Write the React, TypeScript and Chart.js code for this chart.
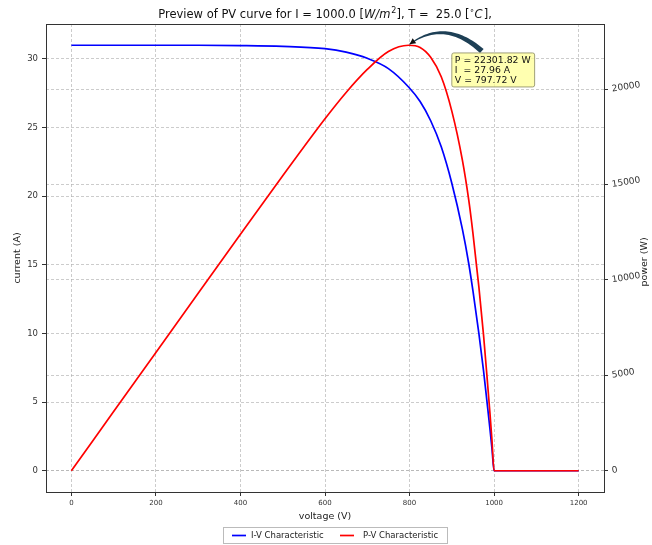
import React, { useEffect, useRef } from "react";
import { Chart, registerables } from "chart.js";

Chart.register(...registerables);

// ---- data ----
const voltage = [0, 100, 200, 300, 400, 500, 600, 650, 700, 750, 797.72, 825, 850, 875, 900, 925, 940, 950, 964, 975, 984, 990, 995, 1000, 1100, 1200];
const current = [31.0, 31.0, 31.0, 31.0, 30.98, 30.92, 30.75, 30.5, 30.05, 29.3, 27.96, 26.9, 25.5, 23.6, 20.95, 17.6, 15.1, 13.1, 10.0, 7.3, 4.8, 3.1, 1.6, 0, 0, 0];
const power = [0, 3100, 6200, 9300, 12390, 15460, 18450, 19830, 21035, 21975, 22301.82, 22190, 21675, 20650, 18850, 16280, 14194, 12445, 9640, 7120, 4720, 3070, 1590, 0, 0, 0];

const xTicks = [0, 200, 400, 600, 800, 1000, 1200];
const currentTicks = [0, 5, 10, 15, 20, 25, 30];
const powerTicks = [0, 5000, 10000, 15000, 20000];

const seriesLabels = ["I-V Characteristic", "P-V Characteristic"];
const peak = { v: 797.72, i: 27.96, p: 22301.82 };
const annotationLines = ["P = 22301.82 W", "I  = 27.96 A", "V = 797.72 V"];

const FONT = "'DejaVu Sans', 'Liberation Sans', sans-serif";
const GRID = "rgba(175,175,175,0.8)";

const decorPlugin = {
  id: "decor",
  afterDraw(chart: any) {
    const ctx = chart.ctx as CanvasRenderingContext2D;
    const a = chart.chartArea;
    const xs = chart.scales.x;
    const y2 = chart.scales.y2;
    ctx.save();

    // frame
    ctx.strokeStyle = "#333";
    ctx.lineWidth = 1;
    ctx.strokeRect(Math.round(a.left) + 0.5, Math.round(a.top) + 0.5, Math.round(a.right - a.left), Math.round(a.bottom - a.top));

    // title with mathtext-like parts
    const cx = (a.left + a.right) / 2;
    const base = 18;
    const normal = `11.5px ${FONT}`;
    const ital = `italic 11.5px ${FONT}`;
    const sup = `8px ${FONT}`;
    const parts: [string, string, number][] = [
      ["Preview of PV curve for I = 1000.0 [", normal, 0],
      ["W/m", ital, 0],
      ["2", sup, -5],
      ["], T =  25.0 [", normal, 0],
      ["\u2218", sup, -5],
      ["C", ital, 0],
      ["],", normal, 0],
    ];
    let total = 0;
    for (const [t, f] of parts) {
      ctx.font = f;
      total += ctx.measureText(t).width + (f === ital ? 1 : 0);
    }
    let tx = cx - total / 2;
    ctx.fillStyle = "#111";
    ctx.textBaseline = "alphabetic";
    ctx.textAlign = "left";
    for (const [t, f, dy] of parts) {
      ctx.font = f;
      ctx.fillText(t, tx, base + dy);
      tx += ctx.measureText(t).width + (f === ital ? 1 : 0);
    }

    // axis titles
    ctx.fillStyle = "#222";
    ctx.font = `9.5px ${FONT}`;
    ctx.textAlign = "center";
    ctx.textBaseline = "middle";
    ctx.fillText("voltage (V)", cx, 517);
    ctx.save();
    ctx.translate(18, (a.top + a.bottom) / 2);
    ctx.rotate(-Math.PI / 2);
    ctx.fillText("current (A)", 0, 0);
    ctx.restore();
    ctx.save();
    ctx.translate(645, (a.top + a.bottom) / 2 + 4);
    ctx.rotate(-Math.PI / 2);
    ctx.fillText("power (W)", 0, 0);
    ctx.restore();

    // annotation arrow (curved, tapered)
    const x0 = xs.getPixelForValue(971), y0 = y2.getPixelForValue(22000);
    const x1 = xs.getPixelForValue(peak.v) + 1, y1 = y2.getPixelForValue(peak.p) - 1;
    const qx = xs.getPixelForValue(884), qy = y2.getPixelForValue(23720);
    const N = 40;
    const left: [number, number][] = [];
    const right: [number, number][] = [];
    for (let k = 0; k <= N; k++) {
      const t = k / N;
      const px = (1 - t) * (1 - t) * x0 + 2 * (1 - t) * t * qx + t * t * x1;
      const py = (1 - t) * (1 - t) * y0 + 2 * (1 - t) * t * qy + t * t * y1;
      const dx = 2 * (1 - t) * (qx - x0) + 2 * t * (x1 - qx);
      const dy = 2 * (1 - t) * (qy - y0) + 2 * t * (y1 - qy);
      const len = Math.hypot(dx, dy) || 1;
      const nx = -dy / len, ny = dx / len;
      const w = 2.2 * (1 - t) + 0.5;
      left.push([px + nx * w, py + ny * w]);
      right.push([px - nx * w, py - ny * w]);
    }
    ctx.beginPath();
    ctx.moveTo(left[0][0], left[0][1]);
    for (const p of left) ctx.lineTo(p[0], p[1]);
    for (let k = right.length - 1; k >= 0; k--) ctx.lineTo(right[k][0], right[k][1]);
    ctx.closePath();
    ctx.fillStyle = "#1d3f55";
    ctx.fill();
    // arrow head
    {
      const dx = x1 - qx, dy = y1 - qy;
      const len = Math.hypot(dx, dy);
      const ux = dx / len, uy = dy / len;
      const hl = 6, hw = 3;
      ctx.beginPath();
      ctx.moveTo(x1, y1);
      ctx.lineTo(x1 - ux * hl - uy * hw, y1 - uy * hl + ux * hw);
      ctx.lineTo(x1 - ux * hl + uy * hw, y1 - uy * hl - ux * hw);
      ctx.closePath();
      ctx.fillStyle = "#111";
      ctx.fill();
    }

    // annotation box
    const bx = xs.getPixelForValue(900);
    const by = y2.getPixelForValue(21900);
    ctx.font = `9.3px ${FONT}`;
    let bw = 0;
    for (const l of annotationLines) bw = Math.max(bw, ctx.measureText(l).width);
    bw += 7;
    const bh = 34;
    ctx.beginPath();
    const r = 2;
    ctx.moveTo(bx + r, by);
    ctx.arcTo(bx + bw, by, bx + bw, by + bh, r);
    ctx.arcTo(bx + bw, by + bh, bx, by + bh, r);
    ctx.arcTo(bx, by + bh, bx, by, r);
    ctx.arcTo(bx, by, bx + bw, by, r);
    ctx.closePath();
    ctx.fillStyle = "rgba(255,255,150,0.75)";
    ctx.fill();
    ctx.strokeStyle = "rgba(150,150,110,0.9)";
    ctx.lineWidth = 1;
    ctx.stroke();
    ctx.fillStyle = "#111";
    ctx.textAlign = "left";
    ctx.textBaseline = "middle";
    annotationLines.forEach((l, k) => ctx.fillText(l, bx + 3, by + 7.5 + k * 10));

    // legend
    const lx = 223, ly = 527, lw = 224, lh = 16;
    ctx.fillStyle = "rgba(255,255,255,0.9)";
    ctx.fillRect(lx, ly, lw, lh);
    ctx.strokeStyle = "#bbb";
    ctx.lineWidth = 1;
    ctx.strokeRect(lx + 0.5, ly + 0.5, lw, lh);
    ctx.lineWidth = 1.7;
    ctx.strokeStyle = "blue";
    ctx.beginPath(); ctx.moveTo(232, 535.5); ctx.lineTo(246, 535.5); ctx.stroke();
    ctx.strokeStyle = "red";
    ctx.beginPath(); ctx.moveTo(340, 535.5); ctx.lineTo(354, 535.5); ctx.stroke();
    ctx.fillStyle = "#222";
    ctx.font = `8.5px ${FONT}`;
    ctx.textBaseline = "middle";
    ctx.fillText(seriesLabels[0], 251, 535.5);
    ctx.fillText(seriesLabels[1], 363, 535.5);

    ctx.restore();
  },
};

export default function App() {
  const ref = useRef<HTMLCanvasElement | null>(null);
  useEffect(() => {
    if (!ref.current) return;
    const gridOpts = {
      color: GRID,
      lineWidth: 0.8,
      tickLength: 4,
      tickColor: "#333",
      tickWidth: 1,
    };
    const plain = (v: any) => String(v);
    const chart = new Chart(ref.current, {
      type: "line",
      data: {
        datasets: [
          {
            label: seriesLabels[1],
            data: voltage.map((v, k) => ({ x: v, y: power[k] })),
            borderColor: "red",
            borderWidth: 1.7,
            pointRadius: 0,
            cubicInterpolationMode: "monotone",
            yAxisID: "y2",
            order: 0,
          },
          {
            label: seriesLabels[0],
            data: voltage.map((v, k) => ({ x: v, y: current[k] })),
            borderColor: "blue",
            borderWidth: 1.7,
            pointRadius: 0,
            cubicInterpolationMode: "monotone",
            yAxisID: "y",
            order: 1,
          },
        ],
      },
      plugins: [decorPlugin],
      options: {
        responsive: false,
        animation: false,
        events: [],
        layout: { padding: { top: 24, left: 0, right: 0, bottom: 0 } },
        plugins: { legend: { display: false }, title: { display: false }, tooltip: { enabled: false } },
        scales: {
          x: {
            type: "linear",
            min: -60,
            max: 1260,
            afterBuildTicks: (s: any) => { s.ticks = xTicks.map((v) => ({ value: v })); },
            afterFit: (s: any) => { s.height = 53; },
            grid: { ...gridOpts } as any,
            border: { display: false, dash: [3, 2] } as any,
            ticks: { font: { family: FONT, size: 7 }, color: "#333", padding: 3, maxRotation: 0, autoSkip: false, callback: plain },
          },
          y: {
            type: "linear",
            position: "left",
            min: -1.55,
            max: 32.55,
            afterBuildTicks: (s: any) => { s.ticks = currentTicks.map((v) => ({ value: v })); },
            afterFit: (s: any) => { s.width = 46; },
            grid: gridOpts as any,
            border: { display: false, dash: [3, 2] } as any,
            ticks: { font: { family: FONT, size: 8.5 }, color: "#333", padding: 4, callback: plain },
          },
          y2: {
            type: "linear",
            position: "right",
            min: -1115,
            max: 23417,
            afterBuildTicks: (s: any) => { s.ticks = powerTicks.map((v) => ({ value: v })); },
            afterFit: (s: any) => { s.width = 48; },
            grid: gridOpts as any,
            border: { display: false, dash: [3, 2] } as any,
            ticks: { font: { family: FONT, size: 9 }, color: "#333", padding: 4, minRotation: 9, maxRotation: 9, callback: plain },
          },
        },
      } as any,
    });
    return () => chart.destroy();
  }, []);
  return (
    <div style={{ position: "absolute", left: 0, top: 0, width: 652, height: 545, background: "#fff" }}>
      <canvas ref={ref} width={652} height={545} style={{ display: "block" }} />
    </div>
  );
}
